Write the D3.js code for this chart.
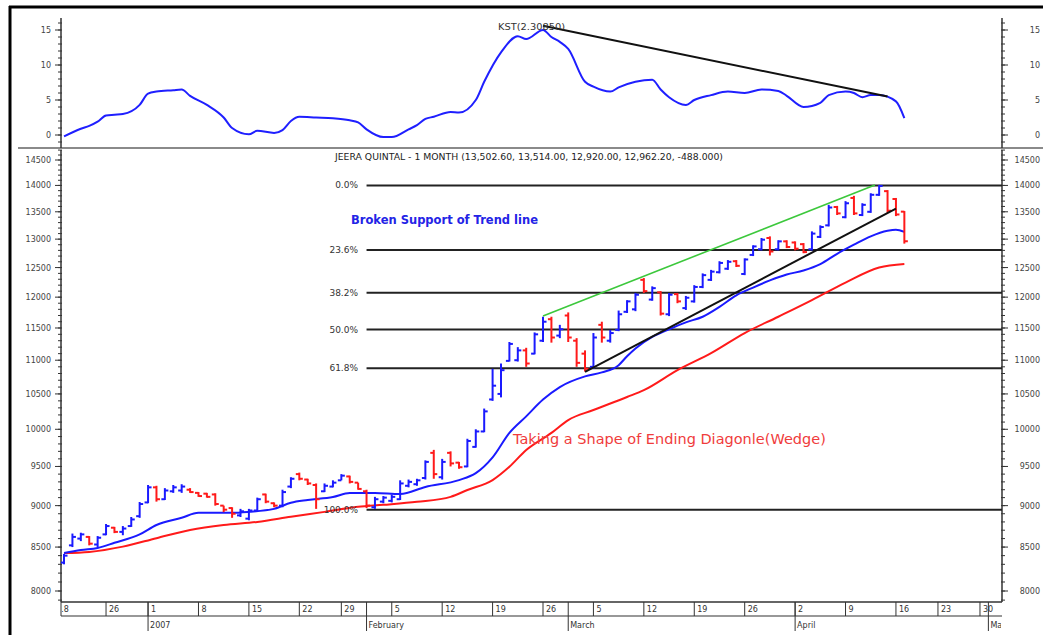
<!DOCTYPE html>
<html>
<head>
<meta charset="utf-8">
<script src="https://cdn.jsdelivr.net/npm/d3@7"></script>
<style>
  body { margin: 0; background: #fff; }
  text { font-family: "DejaVu Sans", sans-serif; }
</style>
</head>
<body>
<svg id="chart" width="1043" height="635"></svg>
<script>
// ================================
// 1) Data (read off the picture)
// ================================
const holidays = ["2006-12-25", "2007-01-26"];
const firstBarDay = "2006-12-19";
const lastBarDay = "2007-04-17";

const opens = [8320,8520,8600,8620,8530,8650,8730,8680,8750,8870, 9040,9230,9080,9180,9190,9200,9160,9150,9140,9000,
  8970,8880,8840,8940,9140,9030,9000,9240,9400,9330, 9260,9180,9240,9320,9370,9290,9180,8980,9050,9060,
  9080,9250,9270,9350,9680,9360,9680,9550,9500,9760, 9970,10420,10500,10990,11000,11150,11100,11300,11640,11380,
  11700,11300,11100,10900,11550,11300,11470,11760,11800,12290, 11960,12080,11720,12050,11820,11930,12170,12290,12420,12480,
  12610,12390,12720,12820,13020,12820,12960,12940,12910,12820, 13040,13250,13590,13400,13760,13440,13500,13820,13890,13740,
  13502.6];
const highs = [8420,8660,8670,8630,8630,8775,8740,8750,8860,9045, 9260,9250,9220,9260,9270,9220,9170,9160,9155,9000,
  8980,8960,8960,9100,9150,9040,9200,9360,9420,9340, 9280,9280,9320,9400,9380,9290,9200,9110,9120,9140,
  9320,9330,9340,9580,9720,9600,9700,9560,9870,10000, 10290,10870,10950,11280,11200,11190,11430,11680,11680,11550,
  11750,11340,11150,11420,11600,11470,11780,11950,12070,12320, 12180,12100,12070,12070,12020,12200,12400,12460,12610,12630,
  12630,12660,12890,13020,13050,12980,12980,12960,12930,13140, 13250,13630,13610,13700,13800,13660,13850,14010,13910,13760,
  13514];
const lows = [8300,8500,8570,8520,8500,8640,8665,8640,8740,8850, 9030,9050,9070,9160,9160,9160,9110,9100,9000,8920,
  8850,8860,8820,8930,9030,8980,8980,9220,9320,9260, 8960,9170,9230,9320,9280,9200,8970,8960,9030,9040,
  9070,9230,9250,9330,9340,9330,9500,9470,9490,9750, 9960,10400,10450,10980,10980,10900,11090,11280,11270,11340,
  11280,10900,10830,10870,11270,11270,11450,11740,11770,12070, 11940,11700,11690,11900,11790,11910,12150,12270,12400,12460,
  12510,12370,12700,12800,12710,12800,12840,12800,12750,12800, 13020,13230,13440,13380,13440,13420,13480,13800,13480,13420,
  12920];
const closes = [8400,8620,8650,8540,8610,8750,8680,8720,8830,9020, 9230,9080,9190,9230,9240,9170,9120,9110,9020,8950,
  8900,8930,8940,9080,9050,9000,9170,9340,9340,9280, 9080,9250,9290,9380,9300,9210,9000,9080,9100,9110,
  9280,9300,9320,9560,9400,9560,9540,9490,9840,9970, 10250,10620,10850,11250,11150,10950,11400,11600,11350,11480,
  11350,10960,10870,11350,11350,11420,11720,11930,12040,12100, 12150,11730,12040,11930,11990,12170,12370,12430,12580,12600,
  12530,12640,12870,12990,12780,12960,12860,12830,12770,13100, 13220,13580,13470,13660,13470,13630,13820,13990,13520,13450,
  12962.2];

// moving averages: [trading day index, price]
const maFast = [[1,8430],[3,8466],[5,8490],[7,8550],[10,8650],[12,8763],[15,8850],[17,8911],[21,8911],[23,8923],
  [26,8960],[28,9035],[30,9070],[33,9108],[35,9158],[38,9158],[41,9145],[44,9235],[48,9323],[50,9412],
  [52,9620],[54,9950],[56,10180],[58,10418],[60,10600],[63,10757],[65,10817],[67,10925],[68,11060],[69,11180],
  [71,11360],[73,11480],[75,11590],[77,11680],[79,11840],[81,12030],[83,12160],[85,12280],[87,12380],[89,12450],
  [91,12560],[93,12740],[95,12900],[97,13050],[99,13150],[100,13170],[101,13130]];
const maSlow = [[1,8430],[4,8443],[8,8505],[12,8605],[16,8703],[20,8763],[24,8800],[28,8863],[32,8923],[36,8985],
  [39,9010],[43,9048],[47,9110],[49,9196],[52,9323],[54,9496],[56,9718],[59,9950],[61,10128],[64,10269],
  [68,10455],[70,10555],[74,10851],[78,11108],[82,11420],[86,11680],[90,11951],[94,12243],[98,12500],[101,12560]];

// KST oscillator: [trading day index, value]
const kst = [[1,-0.2],[3,0.9],[4,1.3],[5,1.9],[6,2.8],[7,2.9],[8,3.0],[10,4.3],[11,5.9],[12,6.2],
  [14,6.4],[15,6.5],[16,5.6],[18,4.3],[20,2.5],[21,1.0],[23,0.1],[24,0.6],[26,0.3],[27,0.7],
  [28,2.0],[29,2.6],[31,2.5],[33,2.4],[35,2.1],[36,1.8],[37,0.8],[39,-0.3],[40,-0.3],[42,0.8],
  [43,1.4],[44,2.3],[45,2.6],[47,3.3],[48,3.2],[50,5.0],[51,7.6],[53,11.8],[55,14.1],[56,13.7],
  [58,15.0],[59,14.0],[60,13.3],[61,12.3],[63,7.6],[64,6.9],[66,6.2],[67,6.8],[69,7.6],[71,7.9],
  [72,6.5],[73,5.4],[75,4.3],[76,5.0],[78,5.7],[80,6.2],[82,6.0],[84,6.5],[86,6.3],[87,5.6],
  [89,4.0],[91,4.6],[92,5.7],[94,6.2],[95,6.0],[96,5.4],[97,5.7],[98,5.7],[100,4.8],[101,2.4]];
const kstTrend = [[58,15.6],[99,5.5]];

const fibLabels = ["0.0%", "23.6%", "38.2%", "50.0%", "61.8%", "100.0%"];
const fibValues = [14000, 12808, 12071, 11475, 10879, 8950];
const fibStartDay = "2007-02-01";

const greenTrend = [[58,11690],[97.5,14010]];
const blackTrend = [[63,10826],[100,13561]];

const priceTicks = [8000,8500,9000,9500,10000,10500,11000,11500,12000,12500,13000,13500,14000,14500];
const kstTicks = [0,5,10,15];

const titleText = "JEERA QUINTAL - 1 MONTH (13,502.60, 13,514.00, 12,920.00, 12,962.20, -488.000)";

// ================================
// 2) Layout + scales
// ================================
const W = 1043, H = 635;
const P = { left: 61, right: 1002, kTop: 18, kBottom: 148, top: 150, bottom: 602 };
const svg = d3.select("#chart");

// trading calendar: Mon-Sat up to the last bar, weekdays projected after it
const fmt = d3.timeFormat("%Y-%m-%d");
const days = d3.timeDay.range(new Date(2006, 11, 18), new Date(2007, 4, 5))
  .filter(d => {
    const key = fmt(d), wd = d.getDay();
    if (wd === 0 || holidays.includes(key)) return false;
    return !(wd === 6 && key > lastBarDay);
  });
const dayIndex = new Map(days.map((d, i) => [fmt(d), i]));
const barStart = dayIndex.get(firstBarDay);
const bars = opens.map((o, k) => ({ i: barStart + k, o, h: highs[k], l: lows[k], c: closes[k] }));

const x = d3.scaleLinear().domain([0.64, 112.62]).range([P.left, P.right]);
const y = d3.scaleLog().domain([8000, 14500]).range([591, 160]);
const yK = d3.scaleLinear().domain([0, 15]).range([135, 30]);

const defs = svg.append("defs");
const clip = (id, x0, y0, x1, y1) => defs.append("clipPath").attr("id", id)
  .append("rect").attr("x", x0).attr("y", y0).attr("width", x1 - x0).attr("height", y1 - y0);
clip("clipMain", P.left, P.top, P.right, P.bottom);
clip("clipKst", P.left, P.kTop, P.right, P.kBottom);
clip("clipDates", P.left + 1, P.bottom, P.right - 1, H);

// ================================
// 3) Frame + axes
// ================================
svg.append("line").attr("x1", 10).attr("x2", 10).attr("y1", 6).attr("y2", H)
  .attr("stroke", "#000").attr("stroke-width", 3);
svg.append("line").attr("x1", 9).attr("x2", W).attr("y1", 7).attr("y2", 7)
  .attr("stroke", "#000").attr("stroke-width", 3);
svg.append("line").attr("x1", 18).attr("x2", W).attr("y1", 148).attr("y2", 148)
  .attr("stroke", "#8a8a8a").attr("stroke-width", 2);

function yAxis(scale, majors, minors, y1, y2) {
  [P.left, P.right].forEach((ax, side) => {
    const dir = side === 0 ? -1 : 1;
    const g = svg.append("g").attr("stroke", "#333");
    g.append("line").attr("x1", ax).attr("x2", ax).attr("y1", y1).attr("y2", y2).attr("stroke-width", 1.5);
    g.selectAll(".minor").data(minors).join("line")
      .attr("x1", ax - dir).attr("x2", ax + dir * 3)
      .attr("y1", d => scale(d)).attr("y2", d => scale(d));
    g.selectAll(".major").data(majors).join("line")
      .attr("x1", ax).attr("x2", ax + dir * 6)
      .attr("y1", d => scale(d)).attr("y2", d => scale(d));
    svg.append("g").selectAll("text").data(majors).join("text")
      .attr("x", side === 0 ? 51 : 1040)
      .attr("y", d => scale(d) + 3)
      .attr("text-anchor", "end")
      .attr("font-size", "8px")
      .attr("fill", "#444")
      .text(d => d);
  });
}

yAxis(yK, kstTicks, d3.range(-1, 17), P.kTop, P.kBottom);
yAxis(y, priceTicks, d3.range(7900, 14800, 100), P.top, P.bottom);

// date axis
const dates = svg.append("g");
dates.append("line").attr("x1", P.left).attr("x2", P.right).attr("y1", P.bottom).attr("y2", P.bottom)
  .attr("stroke", "#333").attr("stroke-width", 1.5);
dates.append("line").attr("x1", P.left).attr("x2", P.right).attr("y1", 616).attr("y2", 616)
  .attr("stroke", "#333").attr("stroke-width", 1.2);
dates.append("line").attr("x1", P.left).attr("x2", P.left).attr("y1", P.bottom).attr("y2", 616)
  .attr("stroke", "#333");

const weekStarts = days.filter((d, i) => i === 0 || d3.timeMonday.floor(d) > days[i - 1]);
const monthStarts = days.filter((d, i) => i > 0 && d.getMonth() !== days[i - 1].getMonth());
const dg = dates.append("g").attr("clip-path", "url(#clipDates)");

dg.selectAll(".wk").data(weekStarts).join("line")
  .attr("x1", d => x(dayIndex.get(fmt(d)))).attr("x2", d => x(dayIndex.get(fmt(d))))
  .attr("y1", P.bottom).attr("y2", 616)
  .attr("stroke", "#333");
dg.selectAll(".wkl").data(weekStarts).join("text")
  .attr("x", d => x(dayIndex.get(fmt(d))) + 3)
  .attr("y", 612)
  .attr("font-size", "8px")
  .attr("fill", "#333")
  .text(d => d.getDate());
dg.selectAll(".mo").data(monthStarts).join("line")
  .attr("x1", d => x(dayIndex.get(fmt(d)))).attr("x2", d => x(dayIndex.get(fmt(d))))
  .attr("y1", P.bottom).attr("y2", 631)
  .attr("stroke", "#333");
dg.selectAll(".mol").data(monthStarts).join("text")
  .attr("x", d => x(dayIndex.get(fmt(d))) + 2)
  .attr("y", 628)
  .attr("font-size", "8px")
  .attr("fill", "#333")
  .text(d => d.getMonth() === 0 ? d.getFullYear() : d3.timeFormat("%B")(d));

// ================================
// 4) KST panel
// ================================
const kg = svg.append("g").attr("clip-path", "url(#clipKst)");
kg.append("path")
  .datum(kst)
  .attr("fill", "none")
  .attr("stroke", "#1f1fff")
  .attr("stroke-width", 2)
  .attr("d", d3.line().x(d => x(d[0])).y(d => yK(d[1])).curve(d3.curveMonotoneX));
kg.append("path")
  .datum(kstTrend)
  .attr("fill", "none")
  .attr("stroke", "#111")
  .attr("stroke-width", 2)
  .attr("d", d3.line().x(d => x(d[0])).y(d => yK(d[1])));
svg.append("text").attr("x", 498).attr("y", 30)
  .attr("font-size", "9px").attr("fill", "#333")
  .attr("textLength", 67).attr("lengthAdjust", "spacingAndGlyphs")
  .text("KST(2.30850)");

// ================================
// 5) Price panel
// ================================
const mg = svg.append("g").attr("clip-path", "url(#clipMain)");

svg.append("text").attr("x", 335).attr("y", 160)
  .attr("font-size", "9px").attr("fill", "#222")
  .attr("textLength", 388).attr("lengthAdjust", "spacingAndGlyphs")
  .text(titleText);

// fibonacci retracement levels
const fibX = x(dayIndex.get(fibStartDay));
mg.selectAll(".fib").data(fibValues).join("line")
  .attr("x1", fibX).attr("x2", P.right)
  .attr("y1", d => y(d)).attr("y2", d => y(d))
  .attr("stroke", "#222").attr("stroke-width", 2);
svg.selectAll(".fibl").data(fibValues).join("text")
  .attr("x", 358).attr("y", d => y(d) + 3)
  .attr("text-anchor", "end")
  .attr("font-size", "9px").attr("fill", "#333")
  .text((d, i) => fibLabels[i]);

const maLine = d3.line().x(d => x(d[0])).y(d => y(d[1])).curve(d3.curveMonotoneX);
mg.append("path").datum(maSlow).attr("fill", "none").attr("stroke", "#ff1a1a").attr("stroke-width", 2).attr("d", maLine);
mg.append("path").datum(maFast).attr("fill", "none").attr("stroke", "#1a1aff").attr("stroke-width", 2).attr("d", maLine);

// OHLC bars
const color = d => d.c >= d.o ? "#1a1aff" : "#ff1a1a";
const bg = mg.selectAll(".bar").data(bars).join("g").attr("stroke", color).attr("stroke-width", 2);
bg.append("line").attr("x1", d => x(d.i)).attr("x2", d => x(d.i)).attr("y1", d => y(d.h)).attr("y2", d => y(d.l));
bg.append("line").attr("x1", d => x(d.i) - 3.5).attr("x2", d => x(d.i)).attr("y1", d => y(d.o)).attr("y2", d => y(d.o));
bg.append("line").attr("x1", d => x(d.i)).attr("x2", d => x(d.i) + 3.5).attr("y1", d => y(d.c)).attr("y2", d => y(d.c));

// trend lines
const tl = d3.line().x(d => x(d[0])).y(d => y(d[1]));
mg.append("path").datum(greenTrend).attr("fill", "none").attr("stroke", "#3cc83c").attr("stroke-width", 1.6).attr("d", tl);
mg.append("path").datum(blackTrend).attr("fill", "none").attr("stroke", "#111").attr("stroke-width", 2).attr("d", tl);

// annotations
svg.append("text").attr("x", 351).attr("y", 224)
  .attr("font-family", "Arial, 'Liberation Sans', sans-serif")
  .attr("font-size", "11.5px").attr("font-weight", "bold").attr("fill", "#2323e6")
  .text("Broken Support of Trend line");
svg.append("text").attr("x", 513).attr("y", 444)
  .attr("font-family", "Arial, 'Liberation Sans', sans-serif")
  .attr("font-size", "14.5px").attr("fill", "#f03c3c")
  .text("Taking a Shape of Ending Diagonle(Wedge)");
</script>
</body>
</html>
